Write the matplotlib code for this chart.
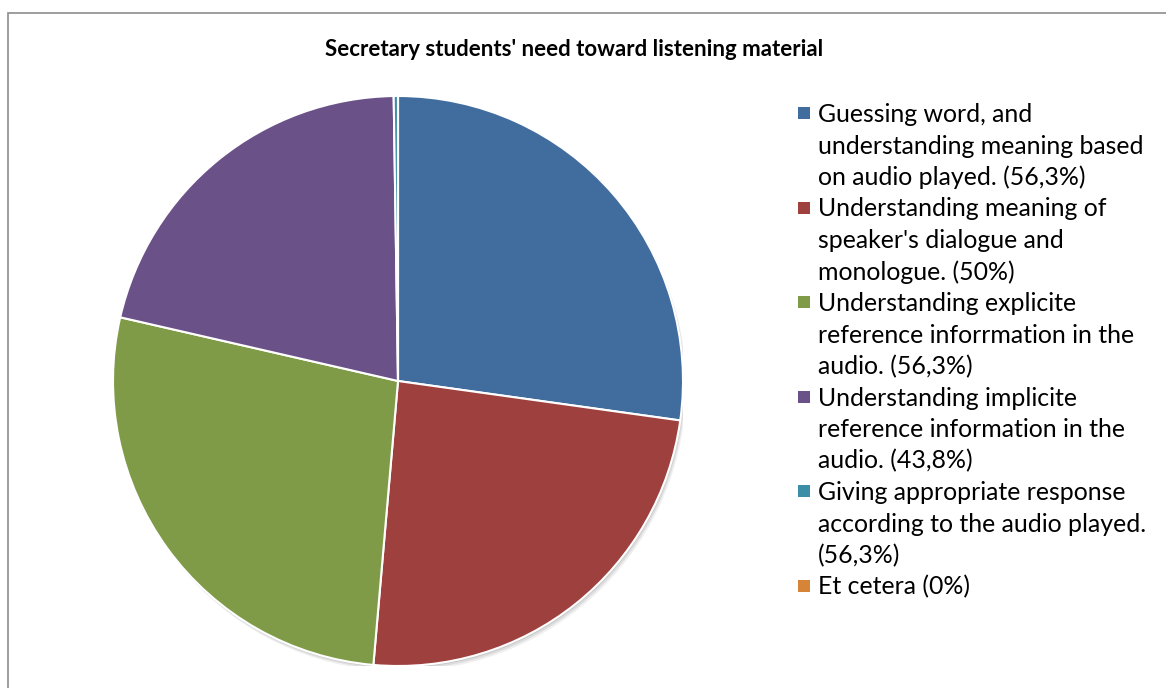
import matplotlib.pyplot as plt
from matplotlib.patches import Rectangle, Circle

plt.rcParams['font.family'] = ['Lato', 'DejaVu Sans']

# values (the labels quote percentages that do not add up)
labels = [
    "Guessing word, and\nunderstanding meaning based\non audio played. (56,3%)",
    "Understanding meaning of\nspeaker's dialogue and\nmonologue. (50%)",
    "Understanding explicite\nreference inforrmation in the\naudio. (56,3%)",
    "Understanding implicite\nreference information in the\naudio. (43,8%)",
    "Giving appropriate response\naccording to the audio played.\n(56,3%)",
    "Et cetera (0%)",
]
values = [56.3, 50.0, 56.3, 43.8, 0.5, 0.0]
colors = ['#416C9E', '#9E413E', '#7F9B48', '#6A5188', '#3A8EA6', '#D68438']
title = "Secretary students' need toward listening material"

W, H = 1166, 688
fig = plt.figure(figsize=(W / 100, H / 100), dpi=100)

# frame of the chart area (only top and left visible)
fig.patches.append(Rectangle((8 / W, -0.1), 1.2, 1 - 13 / H + 0.1,
                             transform=fig.transFigure, fill=False,
                             edgecolor='#8c8c8c', linewidth=1.2))

cx, cy, r = 398, 381, 285
ax = fig.add_axes([(cx - r) / W, (H - cy - r) / H, 2 * r / W, 2 * r / H])

# soft shadow
for k, a in [(0.018, 0.06), (0.012, 0.08), (0.006, 0.10)]:
    ax.add_patch(Circle((k * 0.6, -k), 1.0, color='black', alpha=a, zorder=0, lw=0))

ax.pie(values, colors=colors, startangle=90, counterclock=False, radius=1.0,
       wedgeprops=dict(edgecolor='white', linewidth=1.5))
ax.set_xlim(-1, 1)
ax.set_ylim(-1, 1)
ax.set_aspect('equal')
ax.axis('off')

fig.text(574 / W, 1 - 50 / H, title, ha='center', va='center',
         fontsize=16, fontweight='bold', color='black')

# legend, one text per line so the spacing is even
line_h = 31.5
base = 122
for lab, col in zip(labels, colors):
    fig.patches.append(Rectangle((798 / W, 1 - (base - 3) / H), 12 / W, 12 / H,
                                 transform=fig.transFigure, facecolor=col,
                                 edgecolor='none'))
    for line in lab.split('\n'):
        fig.text(818 / W, 1 - base / H, line, ha='left', va='baseline',
                 fontsize=17.9, color='black')
        base += line_h

fig.savefig('out.png', dpi=100, facecolor='white')
